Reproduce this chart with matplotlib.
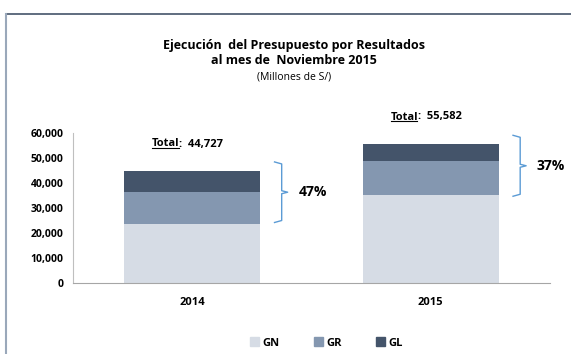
import numpy as np
import matplotlib.pyplot as plt
from matplotlib.lines import Line2D
from matplotlib.patches import Patch

# Presupuesto por Resultados, millones de S/
years = ['2014', '2015']
gn = [23600, 35300]
gr = [12900, 13700]
gl = [8227, 6582]
totals = [44727, 55582]
shares = ['47%', '37%']

c_gn = '#D6DCE5'
c_gr = '#8497B0'
c_gl = '#44546A'
c_brace = '#5B9BD5'

plt.rcParams['font.family'] = ['Open Sans', 'DejaVu Sans']

fig = plt.figure(figsize=(5.71, 3.54), dpi=100)
fig.patch.set_facecolor('white')

# frame lines around the chart
fig.add_artist(Line2D([6 / 571, 1], [1 - 14 / 354] * 2, color='#44546A', lw=1.2))
fig.add_artist(Line2D([6 / 571] * 2, [0, 1 - 14 / 354], color='#9AA8BA', lw=1.5))

ax = fig.add_axes([73 / 571, 1 - 283 / 354, 477 / 571, 150 / 354])
x = np.arange(len(years))
w = 0.57
gn = np.array(gn)
gr = np.array(gr)
gl = np.array(gl)
ax.bar(x, gn, w, color=c_gn, label='GN')
ax.bar(x, gr, w, bottom=gn, color=c_gr, label='GR')
ax.bar(x, gl, w, bottom=gn + gr, color=c_gl, label='GL')

ax.set_xlim(-0.5, 1.5)
ax.set_ylim(0, 60000)
ax.set_yticks(range(0, 60001, 10000))
ax.set_yticklabels([f'{v:,}' for v in range(0, 60001, 10000)],
                   fontsize=7.5, fontweight='bold')
ax.set_xticks(x)
ax.set_xticklabels(years, fontsize=8, fontweight='bold')
ax.tick_params(axis='both', length=0, pad=7)
ax.tick_params(axis='x', pad=10)
for s in ['top', 'right']:
    ax.spines[s].set_visible(False)
ax.spines['left'].set_color('#BFBFBF')
ax.spines['bottom'].set_color('#A6A6A6')

# total labels above the bars, "Total" underlined
renderer = fig.canvas.get_renderer()
label_y = [55600, 66400]
for xi, t, ly in zip(x, totals, label_y):
    t1 = ax.text(xi, ly, 'Total', ha='right', va='center', fontsize=8,
                 fontweight='bold', clip_on=False)
    t2 = ax.text(xi, ly, f':  {t:,}', ha='left', va='center', fontsize=8,
                 fontweight='bold', clip_on=False)
    w1 = t1.get_window_extent(renderer).width
    w2 = t2.get_window_extent(renderer).width
    shift = (w1 - w2) / 2
    inv = ax.transData.inverted()
    px, py = ax.transData.transform((xi - 0.02, ly))
    nx = inv.transform((px + shift, py))[0]
    t1.set_x(nx)
    t2.set_x(nx)
    bb = t1.get_window_extent(renderer)
    (ux0, uy), (ux1, _) = inv.transform([(bb.x0 + 0.5, bb.y0 + 1.5),
                                          (bb.x1 - 0.5, bb.y0 + 1.5)])
    ax.plot([ux0, ux1], [uy, uy], color='black', lw=0.8, clip_on=False)

# curly brackets marking GR + GL share
lows = gn + [600, -600]
highs = np.array(totals) + [3700, 3500]
for xi, lo, hi, sh in zip(x, lows, highs, shares):
    x0 = xi + w / 2 + 0.06
    mid = (lo + hi) / 2
    bx = [x0, x0 + 0.03, x0 + 0.03, x0 + 0.055, x0 + 0.03, x0 + 0.03, x0]
    by = [hi, hi - 800, mid + 600, mid, mid - 600, lo + 800, lo]
    ax.plot(bx, by, color=c_brace, lw=1, clip_on=False)
    ax.text(x0 + 0.1, mid, sh, ha='left', va='center', fontsize=10,
            fontweight='bold', clip_on=False)

# legend
handles = [Patch(color=c_gn), Patch(color=c_gr), Patch(color=c_gl)]
fig.legend(handles, ['GN', 'GR', 'GL'], loc='center', ncol=3,
           bbox_to_anchor=(0.572, 1 - 343 / 354), frameon=False,
           prop={'weight': 'bold', 'size': 8}, handlelength=0.8,
           handleheight=0.8, handletextpad=0.3, columnspacing=3.1)

fig.text(294 / 571, 1 - 45 / 354, 'Ejecución  del Presupuesto por Resultados',
         ha='center', va='center', fontsize=9, fontweight='bold')
fig.text(294 / 571, 1 - 61 / 354, 'al mes de  Noviembre 2015',
         ha='center', va='center', fontsize=9, fontweight='bold')
fig.text(294 / 571, 1 - 77 / 354, '(Millones de S/)',
         ha='center', va='center', fontsize=7.5)

fig.savefig('out.png', dpi=100)
